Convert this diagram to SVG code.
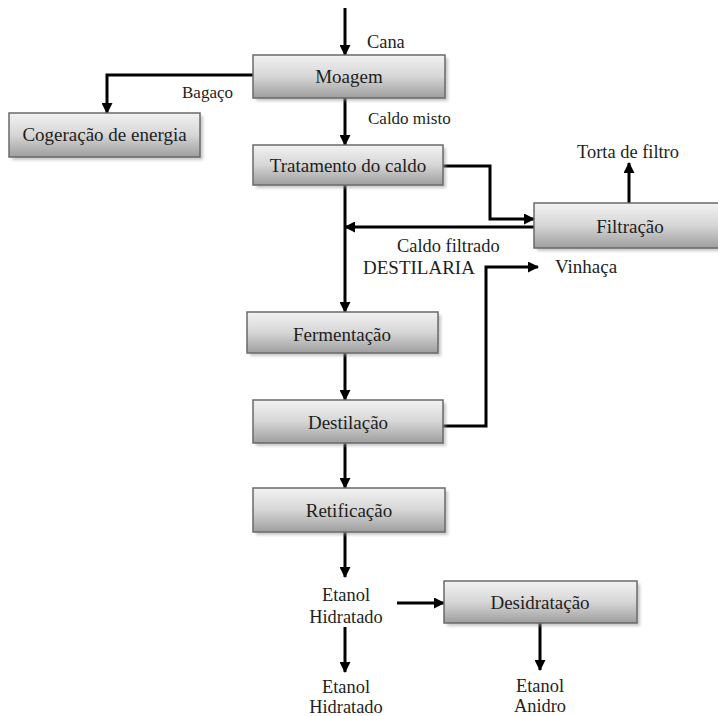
<svg xmlns="http://www.w3.org/2000/svg" width="718" height="716" viewBox="0 0 718 716">
<style>
.box{fill:url(#g);stroke:#6a6a6a;stroke-width:1.5}
.sh{fill:#9a9a9a;opacity:0.55;filter:url(#blur)}
.t{font-family:'Liberation Serif','Times New Roman','DejaVu Serif',serif;font-size:19px;fill:#1e1e1e}
.l{font-family:'Liberation Serif','Times New Roman','DejaVu Serif',serif;font-size:18.4px;fill:#1e1e1e}
.s{font-size:17px}
.m{text-anchor:middle}
.c{fill:none;stroke:#000;stroke-width:3;marker-end:url(#ah)}
</style>
<defs>
<linearGradient id="g" x1="0" y1="0" x2="0" y2="1">
<stop offset="0" stop-color="#f2f2f2"/>
<stop offset="0.5" stop-color="#d6d6d6"/>
<stop offset="1" stop-color="#9e9e9e"/>
</linearGradient>
<filter id="blur" x="-10%" y="-20%" width="120%" height="140%"><feGaussianBlur stdDeviation="1.5"/></filter>
<marker id="ah" markerUnits="userSpaceOnUse" markerWidth="11" markerHeight="11" refX="10" refY="5.5" orient="auto">
<path d="M0,0 L11,5.5 L0,11 z" fill="#000"/>
</marker>
</defs>
<rect width="718" height="716" fill="#fff"/>
<g id="connectors">
<path class="c" d="M345,8 V55"/>
<path class="c" d="M253,75 H107 V113"/>
<path class="c" d="M345,98 V145"/>
<path class="c" d="M443,166 H490 V219 H534"/>
<path class="c" d="M534,227 H345"/>
<path class="c" d="M345,185 V312"/>
<path class="c" d="M629,203 V163"/>
<path class="c" d="M345,353 V400"/>
<path class="c" d="M443,426 H486 V267 H538"/>
<path class="c" d="M345,443 V488"/>
<path class="c" d="M345,532 V577"/>
<path class="c" d="M397,603 H444"/>
<path class="c" d="M345,627 V672"/>
<path class="c" d="M540,623 V670"/>
</g>
<g id="moagem">
<rect class="sh" x="256" y="58" width="192" height="43"/>
<rect class="box" x="253" y="55" width="192" height="43"/>
<text class="t m" x="349" y="83">Moagem</text>
</g>
<g id="cogeracao">
<rect class="sh" x="12" y="116" width="191" height="44"/>
<rect class="box" x="9" y="113" width="191" height="44"/>
<text class="t m" x="104.5" y="141">Cogeração de energia</text>
</g>
<g id="tratamento">
<rect class="sh" x="256" y="148" width="190" height="40"/>
<rect class="box" x="253" y="145" width="190" height="40"/>
<text class="t m" x="348" y="172">Tratamento do caldo</text>
</g>
<g id="filtracao">
<rect class="sh" x="537" y="206" width="190" height="45"/>
<rect class="box" x="534" y="203" width="190" height="45"/>
<text class="t m" x="630" y="233">Filtração</text>
</g>
<g id="fermentacao">
<rect class="sh" x="250" y="315" width="191" height="41"/>
<rect class="box" x="247" y="312" width="191" height="41"/>
<text class="t m" x="342" y="341">Fermentação</text>
</g>
<g id="destilacao">
<rect class="sh" x="256" y="403" width="190" height="43"/>
<rect class="box" x="253" y="400" width="190" height="43"/>
<text class="t m" x="348" y="429">Destilação</text>
</g>
<g id="retificacao">
<rect class="sh" x="256" y="491" width="192" height="44"/>
<rect class="box" x="253" y="488" width="192" height="44"/>
<text class="t m" x="349" y="517">Retificação</text>
</g>
<g id="desidratacao">
<rect class="sh" x="447" y="584" width="193" height="42"/>
<rect class="box" x="444" y="581" width="193" height="42"/>
<text class="t m" x="540" y="609">Desidratação</text>
</g>
<g id="labels">
<text class="l" x="367" y="48">Cana</text>
<text class="l s" x="368" y="124">Caldo misto</text>
<text class="l s" x="182" y="98">Bagaço</text>
<text class="l m" x="628" y="158">Torta de filtro</text>
<text class="l" x="397" y="252">Caldo filtrado</text>
<text class="t" x="363" y="274">DESTILARIA</text>
<text class="t" x="555" y="273">Vinhaça</text>
<text class="l m" x="346" y="601">Etanol</text>
<text class="l m" x="346" y="623">Hidratado</text>
<text class="l m" x="346" y="693">Etanol</text>
<text class="l m" x="346" y="713">Hidratado</text>
<text class="l m" x="540" y="692">Etanol</text>
<text class="l m" x="540" y="712">Anidro</text>
</g>
</svg>
